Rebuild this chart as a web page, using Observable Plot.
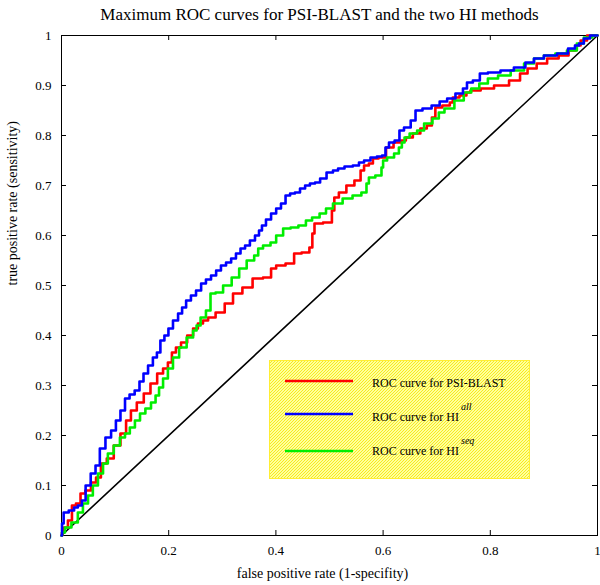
<!DOCTYPE html>
<html>
<head>
<meta charset="utf-8">
<script src="https://cdn.jsdelivr.net/npm/d3@7"></script>
<script src="https://cdn.jsdelivr.net/npm/@observablehq/plot@0.6"></script>
<style>
  html, body { margin: 0; padding: 0; background: #ffffff; }
  #chart { width: 600px; height: 585px; }
</style>
</head>
<body>
<div id="chart"></div>
<script>
// ---- data ----
const titleText = "Maximum ROC curves for PSI-BLAST and the two HI methods";
const xLabel = "false positive rate (1-specifity)";
const yLabel = "true positive rate (sensitivity)";
const xTicks = [0, 0.2, 0.4, 0.6, 0.8, 1];
const yTicks = [0, 0.1, 0.2, 0.3, 0.4, 0.5, 0.6, 0.7, 0.8, 0.9, 1];
const seriesNames = ["ROC curve for PSI-BLAST", "ROC curve for HI", "ROC curve for HI"];
const seriesSup = ["", "all", "seq"];
const seriesColors = ["#ff0000", "#0000ff", "#00ee00"];

const diagX = [0, 1];
const diagY = [0, 1];

const psiX = [0,0.002,0.007,0.017,0.022,0.032,0.039,0.050,0.060,0.069,0.078,0.091,0.104,0.116,0.125,0.134,0.147,0.160,0.172,0.185,0.194,0.203,0.209,0.218,0.228,0.241,0.250,0.259,0.269,0.278,0.297,0.312,0.328,0.347,0.366,0.386,0.396,0.405,0.431,0.437,0.459,0.466,0.470,0.474,0.502,0.507,0.511,0.524,0.539,0.554,0.562,0.567,0.580,0.582,0.601,0.610,0.629,0.638,0.647,0.664,0.675,0.688,0.694,0.701,0.720,0.729,0.731,0.754,0.757,0.769,0.795,0.819,0.851,0.860,0.879,0.894,0.918,0.937,0.955,0.963,0.974,0.987,1.0];
const psiY = [0,0.006,0.016,0.030,0.060,0.064,0.084,0.090,0.106,0.116,0.144,0.154,0.180,0.204,0.230,0.250,0.266,0.284,0.304,0.324,0.334,0.346,0.366,0.376,0.386,0.400,0.414,0.424,0.430,0.436,0.446,0.464,0.484,0.496,0.514,0.516,0.534,0.540,0.544,0.564,0.566,0.576,0.604,0.624,0.626,0.650,0.676,0.686,0.700,0.710,0.730,0.740,0.744,0.754,0.756,0.776,0.786,0.790,0.796,0.804,0.814,0.820,0.836,0.856,0.860,0.866,0.876,0.880,0.886,0.890,0.894,0.900,0.910,0.924,0.934,0.944,0.954,0.960,0.970,0.980,0.990,1.0,1.0];

const hiAllX = [0,0.002,0.006,0.021,0.026,0.035,0.041,0.049,0.060,0.067,0.076,0.088,0.097,0.106,0.114,0.123,0.131,0.142,0.149,0.157,0.166,0.175,0.181,0.188,0.196,0.203,0.213,0.222,0.228,0.237,0.246,0.256,0.265,0.274,0.284,0.293,0.302,0.312,0.321,0.330,0.338,0.347,0.356,0.366,0.371,0.377,0.386,0.396,0.405,0.414,0.422,0.431,0.440,0.450,0.459,0.468,0.478,0.487,0.502,0.511,0.521,0.535,0.552,0.558,0.571,0.582,0.595,0.601,0.608,0.614,0.629,0.632,0.646,0.657,0.664,0.683,0.698,0.713,0.726,0.744,0.754,0.759,0.776,0.785,0.806,0.832,0.856,0.875,0.888,0.912,0.937,0.953,0.963,0.968,0.981,0.991,1.0];
const hiAllY = [0,0.024,0.046,0.050,0.056,0.060,0.070,0.100,0.124,0.140,0.174,0.196,0.210,0.230,0.250,0.274,0.282,0.290,0.308,0.324,0.340,0.356,0.366,0.390,0.400,0.414,0.430,0.444,0.456,0.470,0.480,0.490,0.504,0.512,0.520,0.530,0.540,0.546,0.554,0.564,0.574,0.580,0.590,0.600,0.610,0.620,0.632,0.644,0.654,0.664,0.680,0.684,0.686,0.694,0.700,0.704,0.706,0.714,0.726,0.730,0.734,0.738,0.740,0.746,0.750,0.756,0.758,0.760,0.776,0.786,0.790,0.810,0.816,0.830,0.850,0.854,0.860,0.868,0.874,0.884,0.894,0.906,0.910,0.924,0.926,0.930,0.936,0.946,0.954,0.960,0.964,0.974,0.980,0.984,0.994,1.0,1.0];

const hiSeqX = [0,0.002,0.011,0.026,0.035,0.045,0.054,0.063,0.073,0.082,0.091,0.104,0.114,0.123,0.132,0.142,0.151,0.162,0.172,0.179,0.185,0.194,0.203,0.213,0.226,0.241,0.250,0.254,0.265,0.274,0.282,0.293,0.310,0.325,0.338,0.353,0.366,0.368,0.384,0.396,0.405,0.422,0.433,0.451,0.461,0.474,0.489,0.498,0.515,0.534,0.552,0.567,0.571,0.576,0.595,0.599,0.601,0.614,0.627,0.632,0.638,0.642,0.657,0.670,0.683,0.701,0.707,0.722,0.744,0.757,0.772,0.787,0.804,0.825,0.851,0.875,0.888,0.912,0.931,0.955,0.968,0.981,1.0];
const hiSeqY = [0,0.006,0.016,0.026,0.046,0.064,0.080,0.100,0.124,0.144,0.164,0.180,0.196,0.204,0.216,0.230,0.244,0.254,0.266,0.280,0.296,0.314,0.334,0.356,0.376,0.396,0.410,0.420,0.436,0.450,0.484,0.486,0.500,0.516,0.534,0.550,0.560,0.574,0.580,0.586,0.600,0.614,0.616,0.620,0.630,0.636,0.644,0.654,0.664,0.674,0.680,0.686,0.704,0.716,0.720,0.736,0.750,0.756,0.764,0.776,0.786,0.796,0.804,0.810,0.824,0.834,0.846,0.854,0.870,0.886,0.894,0.904,0.914,0.920,0.930,0.944,0.954,0.960,0.964,0.970,0.984,0.996,1.0];

// ---- build tables ----
const toRows = (xs, ys) => xs.map((x, i) => ({x, y: ys[i]}));
const diag = toRows(diagX, diagY);
const psi = toRows(psiX, psiY);
const hiAll = toRows(hiAllX, hiAllY);
const hiSeq = toRows(hiSeqX, hiSeqY);

const serif = "'Liberation Serif', 'DejaVu Serif', 'Times New Roman', serif";

const chart = Plot.plot({
  width: 600,
  height: 585,
  marginTop: 35,
  marginBottom: 50,
  marginLeft: 61,
  marginRight: 3,
  x: {domain: [0, 1]},
  y: {domain: [0, 1]},
  style: {fontFamily: serif, fontSize: "13px", color: "black", background: "white", overflow: "visible"},
  marks: [
    Plot.frame({stroke: "black", strokeWidth: 1}),
    // inward ticks on all four sides
    Plot.tickX(xTicks, {x: d => d, insetTop: 495, stroke: "black"}),
    Plot.tickX(xTicks, {x: d => d, insetBottom: 495, stroke: "black"}),
    Plot.tickY(yTicks, {y: d => d, insetRight: 531, stroke: "black"}),
    Plot.tickY(yTicks, {y: d => d, insetLeft: 531, stroke: "black"}),
    Plot.axisX({ticks: xTicks, tickSize: 0, tickPadding: 10, tickFormat: d => String(d), label: null, fontSize: 13}),
    Plot.axisY({ticks: yTicks, tickSize: 0, tickPadding: 10, tickFormat: d => String(d), label: null, fontSize: 13}),
    // diagonal
    Plot.line(diag, {x: "x", y: "y", stroke: "black", strokeWidth: 1.6}),
    // ROC curves
    Plot.line(psi, {x: "x", y: "y", stroke: seriesColors[0], strokeWidth: 2.6, curve: "step"}),
    Plot.line(hiSeq, {x: "x", y: "y", stroke: seriesColors[2], strokeWidth: 2.6, curve: "step"}),
    Plot.line(hiAll, {x: "x", y: "y", stroke: seriesColors[1], strokeWidth: 2.6, curve: "step"}),
    // titles
    Plot.text([titleText], {frameAnchor: "top", lineAnchor: "bottom", dy: -16, dx: -10, fontSize: 17, fill: "black"}),
    Plot.text([xLabel], {frameAnchor: "bottom", lineAnchor: "bottom", dy: 42, dx: -7, fontSize: 14, fill: "black"}),
    Plot.text([yLabel], {frameAnchor: "left", rotate: -90, dx: -49, fontSize: 14, fill: "black"})
  ]
});

document.getElementById("chart").appendChild(chart);

// ---- legend box (hatched yellow) ----
const svg = d3.select(chart);
const defs = svg.insert("defs", ":first-child");
const pat = defs.append("pattern")
  .attr("id", "hatch")
  .attr("patternUnits", "userSpaceOnUse")
  .attr("width", 3).attr("height", 3);
pat.append("rect").attr("width", 3).attr("height", 3).attr("fill", "#ffff9c");
pat.append("path").attr("d", "M-1,1 L1,-1 M0,3 L3,0 M2,4 L4,2")
  .attr("stroke", "#f4e400").attr("stroke-width", 0.8);

const lg = svg.append("g")
  .attr("font-family", serif)
  .attr("font-size", 12)
  .attr("text-anchor", "start");
lg.append("rect")
  .attr("x", 269.5).attr("y", 360.5).attr("width", 260).attr("height", 118)
  .attr("fill", "url(#hatch)").attr("stroke", "#ffee33").attr("stroke-width", 1);

const rowY = [381, 414, 451];
const textY = [387, 421, 455];
seriesNames.forEach((name, i) => {
  lg.append("line")
    .attr("x1", 285).attr("x2", 353).attr("y1", rowY[i]).attr("y2", rowY[i])
    .attr("stroke", seriesColors[i]).attr("stroke-width", 2.6);
  const t = lg.append("text")
    .attr("x", 372).attr("y", textY[i])
    .attr("text-anchor", "start")
    .attr("fill", "black")
    .text(name);
  if (seriesSup[i]) {
    t.append("tspan")
      .attr("dx", 2).attr("dy", -11)
      .attr("font-style", "italic").attr("font-size", 10)
      .text(seriesSup[i]);
  }
});
</script>
</body>
</html>
